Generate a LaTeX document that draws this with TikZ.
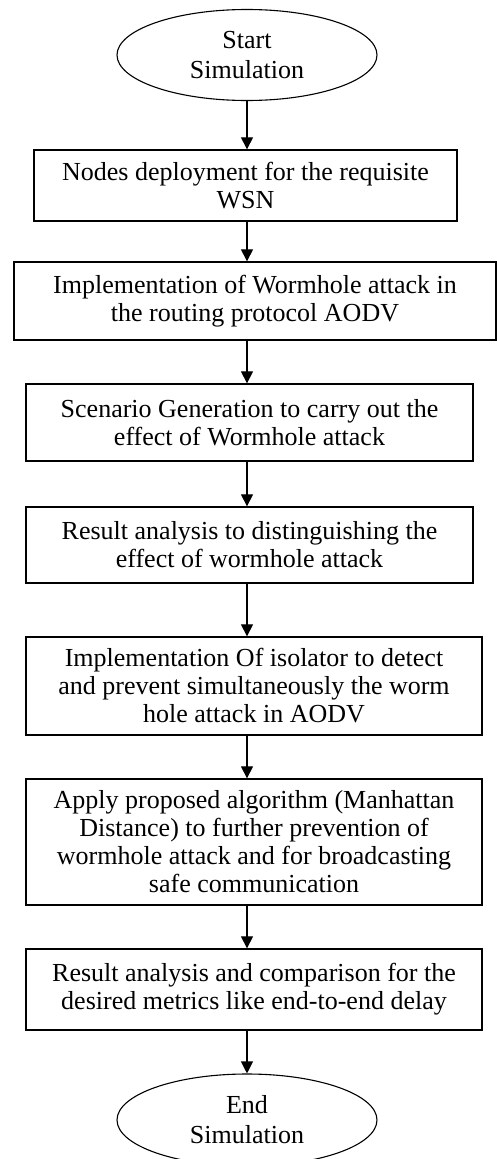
\documentclass[tikz,border=0pt]{standalone}
\usepackage{fontspec}
\setmainfont{Liberation Serif}
\usetikzlibrary{arrows.meta,shapes.geometric}
\begin{document}
\begin{tikzpicture}[x=1pt,y=-1pt,
  box/.style={draw, line width=1.3pt, rectangle, inner sep=0pt, align=center, font=\fontsize{26}{28}\selectfont},
  term/.style={draw, line width=1.1pt, ellipse, inner sep=0pt, align=center, font=\fontsize{26}{30}\selectfont, minimum width=260pt, minimum height=91pt},
  flow/.style={line width=1.1pt, -{Triangle[width=12pt,length=12pt]}}]
\useasboundingbox (0,0) rectangle (497,1159);
\node[term] (start) at (247,55) {Start\\Simulation};
\node[box, minimum width=423pt, minimum height=71pt] (b1) at (245.5,185.5) {Nodes deployment for the requisite\\WSN};
\node[box, minimum width=482pt, minimum height=78pt] (b2) at (255,301) {Implementation of Wormhole attack in\\the routing protocol AODV};
\node[box, minimum width=447pt, minimum height=77pt] (b3) at (249.5,422.5) {Scenario Generation to carry out the\\effect of Wormhole attack};
\node[box, minimum width=447pt, minimum height=76pt] (b4) at (249.5,545) {Result analysis to distinguishing the\\effect of wormhole attack};
\node[box, minimum width=456pt, minimum height=98pt] (b5) at (254,686) {Implementation Of isolator to detect\\and prevent simultaneously the worm\\hole attack in AODV};
\node[box, minimum width=456pt, minimum height=126pt] (b6) at (254,842) {Apply proposed algorithm (Manhattan\\Distance) to further prevention of\\wormhole attack and for broadcasting\\safe communication};
\node[box, minimum width=456pt, minimum height=81pt] (b7) at (254,989.5) {Result analysis and comparison for the\\desired metrics like end-to-end delay};
\node[term, minimum height=92pt] (end) at (247,1120) {End\\Simulation};
\draw[flow] (start.south) -- (start.south |- b1.north);
\draw[flow] (b1.south -| start) -- (b2.north -| start);
\draw[flow] (b2.south -| start) -- (b3.north -| start);
\draw[flow] (b3.south -| start) -- (b4.north -| start);
\draw[flow] (b4.south -| start) -- (b5.north -| start);
\draw[flow] (b5.south -| start) -- (b6.north -| start);
\draw[flow] (b6.south -| start) -- (b7.north -| start);
\draw[flow] (b7.south -| start) -- (end.north);
\end{tikzpicture}
\end{document}
